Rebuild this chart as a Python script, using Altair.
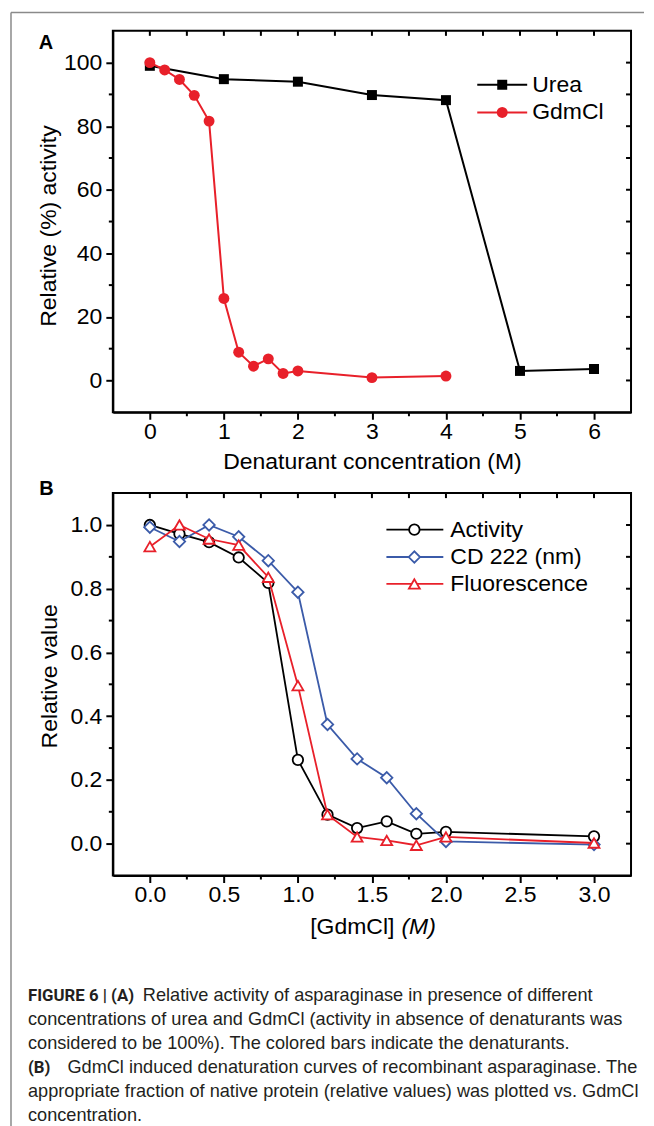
import altair as alt
import pandas as pd

AX = "Liberation Sans, Arial, sans-serif"
BOLDF = "Liberation Sans, Arial, sans-serif"
CAPF = "Liberation Sans, Arial, sans-serif"
CAPB = "Roboto, Liberation Sans, sans-serif"
RED = "#e8202a"
BLUE = "#3b5ba9"
BLACK = "#000000"
GRAY = "#8a8a8a"
CAPCOL = "#231f20"

# ---------------- data: panel A ----------------
urea_conc = [0, 1, 2, 3, 4, 5, 6]
urea_activity = [99.0, 94.8, 94.0, 89.8, 88.2, 3.0, 3.6]
gdmcl_conc_a = [0, 0.2, 0.4, 0.6, 0.8, 1.0, 1.2, 1.4, 1.6, 1.8, 2.0, 3.0, 4.0]
gdmcl_activity_a = [100.0, 97.7, 94.7, 89.7, 81.6, 25.8, 8.9, 4.5, 6.8, 2.2, 3.0, 0.9, 1.4]

# ---------------- data: panel B ----------------
gdmcl_conc_b = [0, 0.2, 0.4, 0.6, 0.8, 1.0, 1.2, 1.4, 1.6, 1.8, 2.0, 3.0]
activity_b = [1.0, 0.972, 0.946, 0.898, 0.818, 0.263, 0.091, 0.049, 0.070, 0.031, 0.037, 0.023]
cd222_b = [0.993, 0.948, 1.0, 0.963, 0.888, 0.789, 0.374, 0.266, 0.207, 0.094, 0.007, -0.003]
fluor_b = [0.932, 1.0, 0.956, 0.937, 0.836, 0.496, 0.091, 0.021, 0.010, -0.005, 0.021, 0.002]

# ---------------- ticks ----------------
a_x_major = [0, 1, 2, 3, 4, 5, 6]
a_x_minor = [0.5, 1.5, 2.5, 3.5, 4.5, 5.5]
a_y_major = [0, 20, 40, 60, 80, 100]
a_y_minor = [10, 30, 50, 70, 90]
b_x_major = [0.0, 0.5, 1.0, 1.5, 2.0, 2.5, 3.0]
b_x_minor = [0.25, 0.75, 1.25, 1.75, 2.25, 2.75]
b_y_major = [0.0, 0.2, 0.4, 0.6, 0.8, 1.0]
b_y_minor = [0.1, 0.3, 0.5, 0.7, 0.9]

# ---------------- texts ----------------
a_series = ["Urea", "GdmCl"]
b_series = ["Activity", "CD 222 (nm)", "Fluorescence"]
a_xtitle = "Denaturant concentration (M)"
a_ytitle = "Relative (%) activity"
b_xtitle = ["[GdmCl]", "(M)"]
b_ytitle = "Relative value"
caption_bold = ["FIGURE 6 | (A)", "", "", "(B)", "", ""]
caption_text = [
    "Relative activity of asparaginase in presence of different",
    "concentrations of urea and GdmCl (activity in absence of denaturants was",
    "considered to be 100%). The colored bars indicate the denaturants.",
    "GdmCl induced denaturation curves of recombinant asparaginase. The",
    "appropriate fraction of native protein (relative values) was plotted vs. GdmCl",
    "concentration.",
]

W = 519
HA = 382
HB = 383
GAP = 81

xA = alt.Scale(domain=[-0.5, 6.5], nice=False, zero=False)
yA = alt.Scale(domain=[-10, 110], nice=False, zero=False)
xB = alt.Scale(domain=[-0.25, 3.25], nice=False, zero=False)
yB = alt.Scale(domain=[-0.1, 1.1], nice=False, zero=False)

one = pd.DataFrame({"k": [0]})


def base_axis(**kw):
    d = dict(labelFont=AX, labelFontSize=23, labelColor=BLACK,
             titleFont=AX, titleFontSize=23, titleColor=BLACK,
             titleFontWeight="normal", tickSize=7, tickWidth=2, tickColor=BLACK,
             domainColor=BLACK, domainWidth=2, grid=False,
             labelOverlap=False, labelFlush=False)
    d.update(kw)
    return alt.Axis(**d)


def text(txt, x, y, size=23, font=AX, weight="normal", style="normal",
         align="left", baseline="middle", color=BLACK):
    return alt.Chart(one).mark_text(
        text=txt, font=font, fontSize=size, fontWeight=weight, fontStyle=style,
        align=align, baseline=baseline, color=color
    ).encode(x=alt.value(x), y=alt.value(y))


def legend_item(y, x0, x1, xm, xt, name, color, shape, size, fill, sw, lw):
    r = alt.Chart(one).mark_rule(color=color, strokeWidth=lw).encode(
        x=alt.value(x0), x2=alt.value(x1), y=alt.value(y))
    p = alt.Chart(one).mark_point(shape=shape, size=size, filled=True, fill=fill,
                                  stroke=color, strokeWidth=sw, opacity=1).encode(
        x=alt.value(xm), y=alt.value(y))
    t = text(name, xt, y)
    return [r, p, t]


def build_layers(X, Y, xmaj, xmin, ymaj, ymin, H, series_specs):
    out = []
    out.append(alt.Chart(pd.DataFrame({"x": xmin})).mark_rule(color=BLACK, strokeWidth=2).encode(
        x=X, y=alt.value(H), y2=alt.value(H + 4)))
    out.append(alt.Chart(pd.DataFrame({"x": xmaj + xmin})).mark_rule(color=BLACK, strokeWidth=2).encode(
        x=X, y=alt.value(0), y2=alt.value(5)))
    out.append(alt.Chart(pd.DataFrame({"y": ymin})).mark_rule(color=BLACK, strokeWidth=2).encode(
        y=Y, x=alt.value(-4), x2=alt.value(0)))
    out.append(alt.Chart(pd.DataFrame({"y": ymaj + ymin})).mark_rule(color=BLACK, strokeWidth=2).encode(
        y=Y, x=alt.value(W - 5), x2=alt.value(W)))
    for xs, ys, color, lw, shape, size, fill, sw in series_specs:
        df = pd.DataFrame({"x": xs, "y": ys})
        out.append(alt.Chart(df).mark_line(color=color, strokeWidth=lw).encode(x=X, y=Y))
        out.append(alt.Chart(df).mark_point(shape=shape, size=size, filled=True, fill=fill,
                                            stroke=color, strokeWidth=sw, opacity=1).encode(x=X, y=Y))
    return out


# ---------------- panel A ----------------
axA_x = base_axis(values=a_x_major, format="d", title=a_xtitle, titleX=W / 2, titleY=49.5,
                  titleBaseline="middle", titleAlign="center", labelPadding=1)
axA_y = base_axis(values=a_y_major, format="d", title=a_ytitle, titleX=-64, titleY=195,
                  titleAngle=270, titleBaseline="middle", titleAlign="center", labelPadding=4)
XA = alt.X("x:Q", scale=xA, axis=axA_x)
YA = alt.Y("y:Q", scale=yA, axis=axA_y)

frame_top = alt.Chart(one).mark_rule(color=GRAY, strokeWidth=1.5).encode(
    x=alt.value(-102), x2=alt.value(532), y=alt.value(-18.3))
frame_left = alt.Chart(one).mark_rule(color=GRAY, strokeWidth=1.5).encode(
    x=alt.value(-102), y=alt.value(-18.3), y2=alt.value(1097))

layersA = build_layers(XA, YA, a_x_major, a_x_minor, a_y_major, a_y_minor, HA, [
    (urea_conc, urea_activity, BLACK, 2, "square", 100, BLACK, 0),
    (gdmcl_conc_a, gdmcl_activity_a, RED, 2, "circle", 120, RED, 0),
])
layersA += [frame_top, frame_left,
            text("A", -67, 12, size=20, font=BOLDF, weight="bold", align="center")]
layersA += legend_item(54, 365, 415, 390, 420, a_series[0], BLACK, "square", 100, BLACK, 0, 2)
layersA += legend_item(81.7, 365, 415, 390, 420, a_series[1], RED, "circle", 120, RED, 0, 2)

panelA = alt.layer(*layersA).properties(width=W, height=HA)

# ---------------- panel B ----------------
axB_x = base_axis(values=b_x_major, format=".1f", title=None, labelPadding=1)
axB_y = base_axis(values=b_y_major, format=".1f", title=b_ytitle, titleX=-63.5, titleY=183,
                  titleAngle=270, titleBaseline="middle", titleAlign="center", labelPadding=4)
XB = alt.X("x:Q", scale=xB, axis=axB_x)
YB = alt.Y("y:Q", scale=yB, axis=axB_y)

layersB = build_layers(XB, YB, b_x_major, b_x_minor, b_y_major, b_y_minor, HB, [
    (gdmcl_conc_b, activity_b, BLACK, 1.8, "circle", 110, "white", 1.8),
    (gdmcl_conc_b, cd222_b, BLUE, 1.8, "diamond", 130, "white", 1.8),
    (gdmcl_conc_b, fluor_b, RED, 1.8, "triangle-up", 120, "white", 1.8),
])
layersB += [
    text("B", -66.5, -4.5, size=20, font=BOLDF, weight="bold", align="center"),
    text(b_xtitle[0], 282, 435, align="right"),
    text(b_xtitle[1], 289, 435, style="italic", align="left"),
]
layersB += legend_item(36.6, 274, 331, 302, 338, b_series[0], BLACK, "circle", 110, "white", 1.8, 1.8)
layersB += legend_item(64, 274, 331, 302, 338, b_series[1], BLUE, "diamond", 130, "white", 1.8, 1.8)
layersB += legend_item(91, 274, 331, 302, 338, b_series[2], RED, "triangle-up", 120, "white", 1.8, 1.8)

# caption (page coordinates converted relative to panel B plot origin)
B_TOP = 28.3 + HA + GAP
B_LEFT = 112
cap_base = [1000, 1024, 1048, 1072, 1096, 1120]
cap_normal_x = [142, 27, 27, 66.5, 27, 27]
CAPSIZE = 18.2
for i in range(len(caption_text)):
    yb = cap_base[i] - B_TOP
    if caption_bold[i]:
        layersB.append(text(caption_bold[i], 27 - B_LEFT, yb, size=16.8, font=CAPB,
                            weight="bold", baseline="alphabetic", color=CAPCOL))
    layersB.append(text(caption_text[i], cap_normal_x[i] - B_LEFT, yb, size=CAPSIZE, font=CAPF,
                        baseline="alphabetic", color=CAPCOL))

panelB = alt.layer(*layersB).properties(width=W, height=HB)

chart = alt.vconcat(panelA, panelB, spacing=GAP, bounds="flush").properties(
    padding={"left": 1, "top": 1, "right": 0, "bottom": 0}
).configure_view(stroke=BLACK, strokeWidth=2)

chart.save("out.html", embed_options={"renderer": "svg", "actions": False})
